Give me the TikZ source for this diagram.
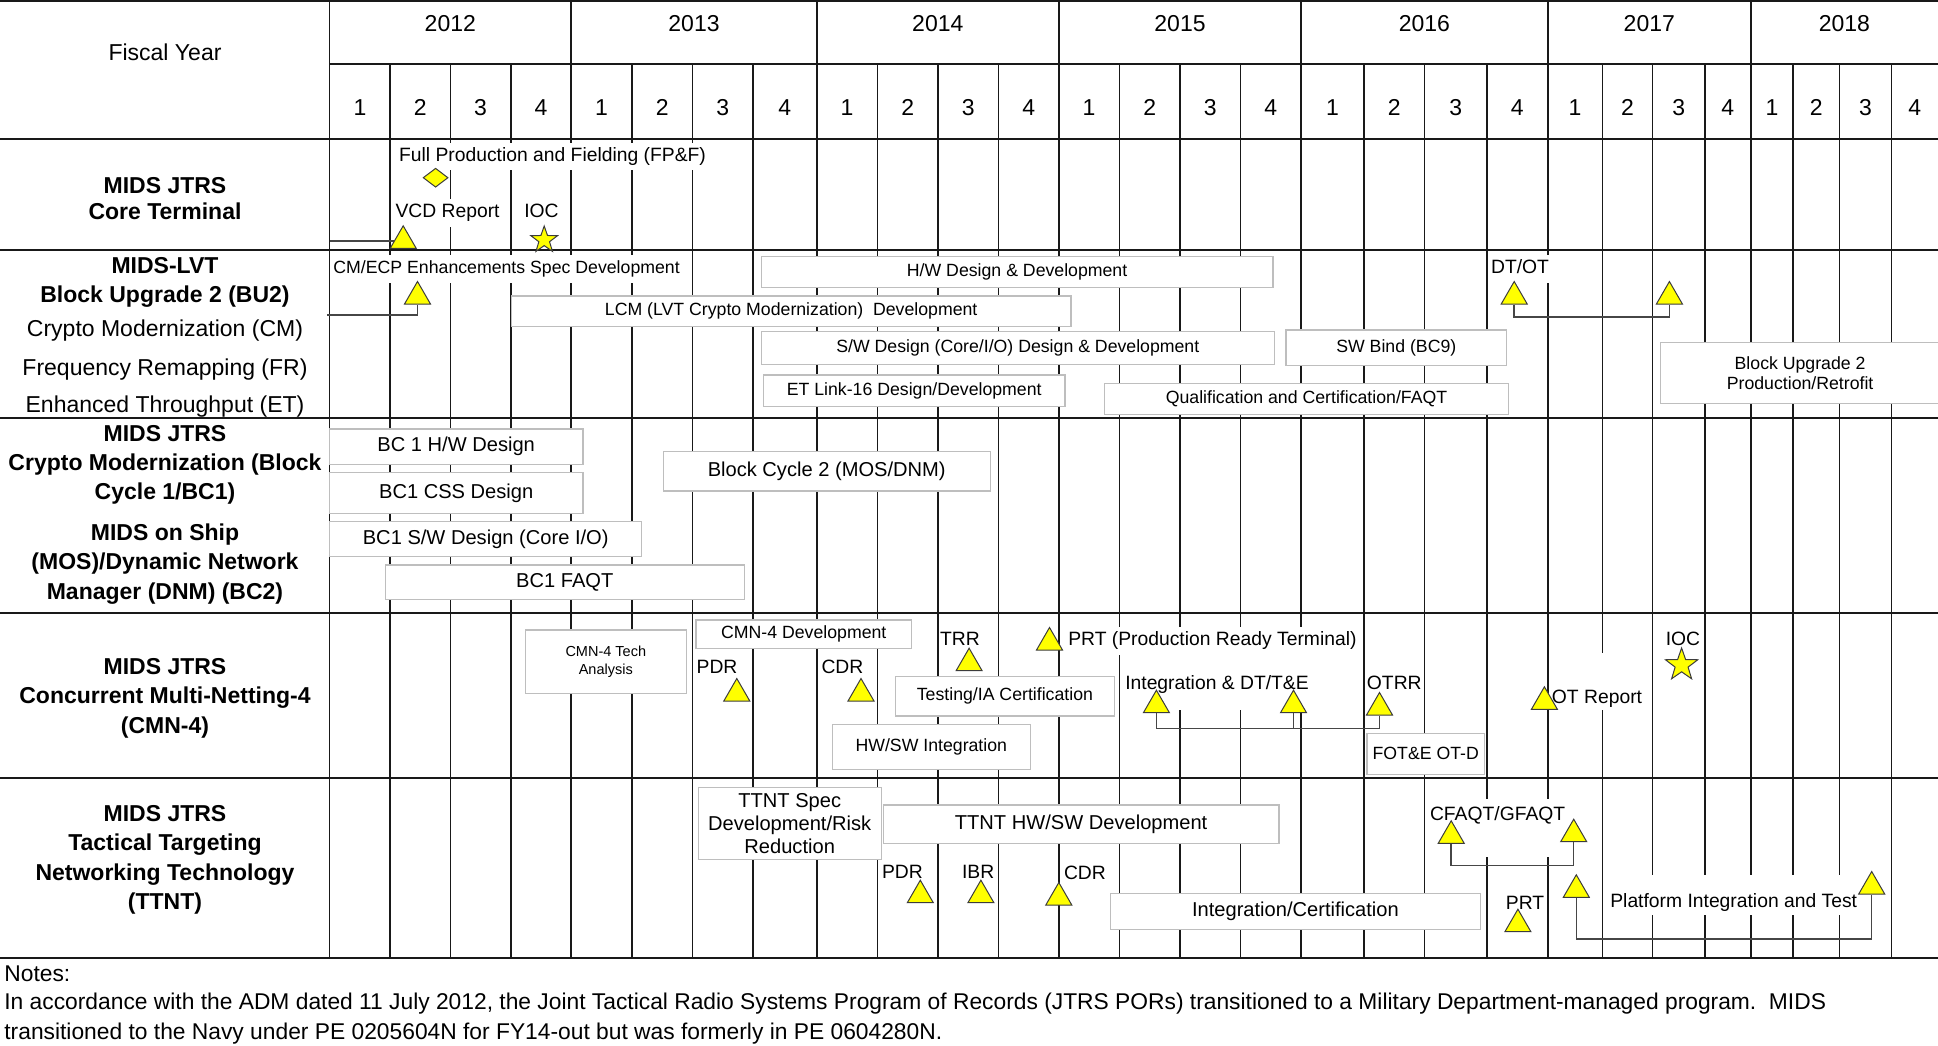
\documentclass[tikz,border=0pt]{standalone}
\usepackage{fontspec}
\setmainfont{Liberation Sans}
\usetikzlibrary{shapes.geometric}

\definecolor{msyellow}{RGB}{255,255,0}
\definecolor{msedge}{RGB}{60,60,60}
\definecolor{barline}{RGB}{190,190,190}
\definecolor{gridline}{RGB}{25,25,25}
\definecolor{linkline}{RGB}{70,70,70}

\newcommand{\hdrfont}{\fontsize{23}{29.2}\selectfont}
\newcommand{\barfont}{\fontsize{17.7}{20}\selectfont}
\newcommand{\bigbarfont}{\fontsize{20.1}{23.3}\selectfont}
\newcommand{\tinybarfont}{\fontsize{14.5}{18.4}\selectfont}
\newcommand{\msfont}{\fontsize{19.3}{23}\selectfont}
\newcommand{\notefont}{\fontsize{22.8}{29}\selectfont}

\begin{document}
\begin{tikzpicture}[
    x=1pt, y=-1pt,
    header/.style={font=\hdrfont, inner sep=0pt},
    rowheader/.style={font=\hdrfont\bfseries, align=center, inner sep=0pt},
    subheader/.style={font=\hdrfont, inner sep=0pt},
    bar/.style={rectangle, draw=barline, fill=white, line width=1.2pt, inner sep=0pt,
                font=\barfont, align=center},
    widebar/.style={bar, font=\bigbarfont},
    mslabel/.style={rectangle, fill=white, inner xsep=1.5pt, inner ysep=4pt,
                    text height=14.5pt, text depth=5pt, font=\msfont},
    milestone/.style={regular polygon, regular polygon sides=3, minimum size=30pt, inner sep=0pt,
                      fill=msyellow, draw=msedge, line width=1pt},
    iocstar/.style={star, star points=5, star point ratio=2.5, inner sep=0pt,
                    fill=msyellow, draw=msedge, line width=1pt},
    fpfmark/.style={diamond, minimum width=25pt, minimum height=19pt, inner sep=0pt,
                    fill=msyellow, draw=msedge, line width=1pt},
    link/.style={draw=linkline, line width=1.5pt},
    vgrid/.style={draw=gridline, line width=1.6pt},
    hgrid/.style={draw=gridline, line width=2.2pt},
    notetext/.style={font=\notefont, inner sep=0pt, anchor=base west}
]
\useasboundingbox (0,0) rectangle (1938,1045);

% Grid: rows
\draw[hgrid] (0,1) -- (1938,1);
\draw[hgrid] (329.5,64.3) -- (1938,64.3);
\draw[hgrid] (0,139.3) -- (1938,139.3);
\draw[hgrid] (0,250) -- (1938,250);
\draw[hgrid] (0,417.7) -- (1938,417.7);
\draw[hgrid] (0,613.3) -- (1938,613.3);
\draw[hgrid] (0,778) -- (1938,778);
\draw[hgrid] (0,958.3) -- (1938,958.3);

% Grid: fiscal year boundaries
\draw[vgrid] (329.5,0) -- (329.5,958.3) (571.1,0) -- (571.1,958.3) (816.8,0) -- (816.8,958.3)
             (1058.8,0) -- (1058.8,958.3) (1301,0) -- (1301,958.3) (1547.7,0) -- (1547.7,958.3)
             (1750.8,0) -- (1750.8,958.3);

% Grid: quarter boundaries
\draw[vgrid] (390.2,64.3) -- (390.2,958.3) (450.3,64.3) -- (450.3,958.3) (510.9,64.3) -- (510.9,958.3);
\draw[vgrid] (631.7,64.3) -- (631.7,958.3) (692.6,64.3) -- (692.6,958.3) (752.8,64.3) -- (752.8,958.3);
\draw[vgrid] (877.4,64.3) -- (877.4,958.3) (938,64.3) -- (938,958.3) (998.6,64.3) -- (998.6,958.3);
\draw[vgrid] (1119.4,64.3) -- (1119.4,958.3) (1180,64.3) -- (1180,958.3) (1240.6,64.3) -- (1240.6,958.3);
\draw[vgrid] (1363.9,64.3) -- (1363.9,958.3) (1424.4,64.3) -- (1424.4,958.3) (1486.9,64.3) -- (1486.9,958.3);
\draw[vgrid] (1602.3,64.3) -- (1602.3,958.3) (1652.6,64.3) -- (1652.6,958.3) (1704.7,64.3) -- (1704.7,958.3);
\draw[vgrid] (1793.2,64.3) -- (1793.2,958.3) (1839.4,64.3) -- (1839.4,958.3) (1891.4,64.3) -- (1891.4,958.3);

% Headers
\node[header] (fiscal) at (165,52.3) {Fiscal Year};
\node[header] (fy12) at (450.3,23.3) {2012};
\node[header] (fy13) at (694,23.3) {2013};
\node[header] (fy14) at (937.8,23.3) {2014};
\node[header] (fy15) at (1180,23.3) {2015};
\node[header] (fy16) at (1424.4,23.3) {2016};
\node[header] (fy17) at (1649.3,23.3) {2017};
\node[header] (fy18) at (1844.4,23.3) {2018};

% Quarters
\node[header] (q121) at (359.9,107.8) {1}; \node[header] (q122) at (420.3,107.8) {2}; \node[header] (q123) at (480.6,107.8) {3}; \node[header] (q124) at (541,107.8) {4};
\node[header] (q131) at (601.4,107.8) {1}; \node[header] (q132) at (662.2,107.8) {2}; \node[header] (q133) at (722.7,107.8) {3}; \node[header] (q134) at (784.8,107.8) {4};
\node[header] (q141) at (847.1,107.8) {1}; \node[header] (q142) at (907.7,107.8) {2}; \node[header] (q143) at (968.3,107.8) {3}; \node[header] (q144) at (1028.7,107.8) {4};
\node[header] (q151) at (1089.1,107.8) {1}; \node[header] (q152) at (1149.7,107.8) {2}; \node[header] (q153) at (1210.3,107.8) {3}; \node[header] (q154) at (1270.8,107.8) {4};
\node[header] (q161) at (1332.5,107.8) {1}; \node[header] (q162) at (1394.2,107.8) {2}; \node[header] (q163) at (1455.7,107.8) {3}; \node[header] (q164) at (1517.3,107.8) {4};
\node[header] (q171) at (1575,107.8) {1}; \node[header] (q172) at (1627.5,107.8) {2}; \node[header] (q173) at (1678.7,107.8) {3}; \node[header] (q174) at (1727.8,107.8) {4};
\node[header] (q181) at (1772,107.8) {1}; \node[header] (q182) at (1816.3,107.8) {2}; \node[header] (q183) at (1865.4,107.8) {3}; \node[header] (q184) at (1914.7,107.8) {4};

% Row 1: Core Terminal
\node[rowheader, font=\fontsize{23}{26.4}\selectfont\bfseries] (ctlbl) at (165,198.3) {MIDS JTRS\\Core Terminal};
\node[mslabel] (fpf) at (552.5,156.5) {Full Production and Fielding (FP\&F)};
\node[mslabel] (vcd) at (447.6,212.9) {VCD Report};
\node[mslabel] (iocct) at (541.5,212.9) {IOC};
\node[fpfmark] (fpfdia) at (435.6,177.7) {};
\node[milestone] (vcdtri) at (403.2,240.8) {};
\node[iocstar, minimum size=28pt] (ctstar) at (544.2,240) {};
\coordinate (ctorigin) at (329.5,240.8);
\draw[link] (ctorigin) -- (vcdtri.180);

% Row 2: MIDS-LVT Block Upgrade 2
\node[rowheader, font=\fontsize{23}{28.6}\selectfont\bfseries] (lvtlbl) at (165,282.4) {MIDS-LVT\\Block Upgrade 2 (BU2)};
\node[subheader] (cmlbl) at (165,330.6) {Crypto Modernization (CM)};
\node[subheader] (frlbl) at (165,370) {Frequency Remapping (FR)};
\node[subheader] (etlbl) at (165,406.6) {Enhanced Throughput (ET)};
\node[mslabel, font=\barfont] (cmecp) at (506.6,268.9) {CM/ECP Enhancements Spec Development};
\node[bar, minimum width=511.8pt, minimum height=30.6pt] (hwdev) at (1017.1,272) {H/W Design \& Development};
\node[bar, minimum width=559.6pt, minimum height=30.7pt] (lcm) at (791.2,311.4) {LCM (LVT Crypto Modernization)\ \ Development};
\node[bar, minimum width=513.1pt, minimum height=32.6pt] (swdev) at (1017.8,348) {S/W Design (Core/I/O) Design \& Development};
\node[bar, minimum width=301.7pt, minimum height=31.7pt] (etlink) at (914.2,390.9) {ET Link-16 Design/Development};
\node[bar, minimum width=404.5pt, minimum height=31pt] (qualcert) at (1306.5,398.8) {Qualification and Certification/FAQT};
\node[bar, minimum width=220.7pt, minimum height=35.7pt] (swbind) at (1396.3,347.9) {SW Bind (BC9)};
\node[bar, minimum width=279.8pt, minimum height=60.6pt] (bu2prod) at (1800.1,373) {Block Upgrade 2\\Production/Retrofit};
\node[mslabel] (dtot) at (1520,268.9) {DT/OT};
\node[milestone] (cmtri) at (417.5,296.5) {};
\node[milestone] (dtot1) at (1514.2,296.5) {};
\node[milestone] (dtot2) at (1669.4,296.5) {};
\coordinate (cmorigin) at (327.4,315);
\draw[link] (cmorigin) -| (cmtri.270);
\draw[link] (dtot1.270) -- ++(0,12.7) -| (dtot2.270);

% Row 3: Crypto Modernization BC1 / MOS-DNM BC2
\node[rowheader] (bc1lbl) at (165,464.9) {MIDS JTRS\\Crypto Modernization (Block\\Cycle 1/BC1)};
\node[rowheader] (moslbl) at (165,563.9) {MIDS on Ship\\(MOS)/Dynamic Network\\Manager (DNM) (BC2)};
\node[widebar, minimum width=253.4pt, minimum height=35.3pt] (bc1hw) at (456.2,446.7) {BC 1 H/W Design};
\node[widebar, minimum width=253.4pt, minimum height=40.6pt] (bc1css) at (456.2,493) {BC1 CSS Design};
\node[widebar, minimum width=312.3pt, minimum height=35pt] (bc1sw) at (485.7,539.2) {BC1 S/W Design (Core I/O)};
\node[widebar, minimum width=359.3pt, minimum height=34.3pt] (bc1faqt) at (564.8,582.2) {BC1 FAQT};
\node[widebar, minimum width=327.1pt, minimum height=39.3pt] (bc2) at (826.7,471.4) {Block Cycle 2 (MOS/DNM)};

% Row 4: CMN-4
\node[rowheader] (cmnlbl) at (165,698.2) {MIDS JTRS\\Concurrent Multi-Netting-4\\(CMN-4)};
\node[bar, font=\tinybarfont, minimum width=161pt, minimum height=63.3pt] (cmntech) at (605.8,661.7) {CMN-4 Tech\\Analysis};
\node[bar, minimum width=215.5pt, minimum height=28.3pt] (cmndev) at (803.8,634.2) {CMN-4 Development};
\node[bar, minimum width=218.8pt, minimum height=39.3pt] (testia) at (1004.9,696.4) {Testing/IA Certification};
\node[bar, minimum width=197.9pt, minimum height=45pt] (hwswint) at (931.3,746.8) {HW/SW Integration};
\node[bar, minimum width=117.5pt, minimum height=41pt] (fote) at (1425.7,753.8) {FOT\&E OT-D};
\node[mslabel] (pdr4) at (717,668.9) {PDR};
\node[mslabel] (cdr4) at (842.4,668.9) {CDR};
\node[mslabel] (trr) at (960,641.2) {TRR};
\node[mslabel] (prtlbl) at (1212.4,641.2) {PRT (Production Ready Terminal)};
\node[mslabel, anchor=north, inner ysep=2pt, text height=35.7pt, text depth=18.3pt] (intdt) at (1217,652) {Integration \& DT/T\&E};
\node[mslabel] (otrr) at (1394.3,684.9) {OTRR};
\node[mslabel, anchor=north, inner ysep=2pt, text height=48.5pt, text depth=4.5pt] (otrep) at (1597,653) {OT Report};
\node[mslabel] (ioc4) at (1683,641.2) {IOC};
\node[milestone] (pdr4tri) at (736.8,693.5) {};
\node[milestone] (cdr4tri) at (861,693.5) {};
\node[milestone] (trrtri) at (969.1,663.2) {};
\node[milestone] (prttri) at (1049.5,642.5) {};
\node[milestone] (inta) at (1156.4,705.2) {};
\node[milestone] (intb) at (1293.5,705.2) {};
\node[milestone] (otrrtri) at (1379.5,707.5) {};
\node[milestone] (otreptri) at (1544.4,701.8) {};
\node[iocstar, minimum size=34pt] (ioc4star) at (1681.6,665) {};
\coordinate (intjoin) at (1293.5,728.3);
\draw[link] (inta.270) |- (intjoin) -| (otrrtri.270);
\draw[link] (intb.270) -- (intjoin);

% Row 5: TTNT
\node[rowheader] (ttntlbl) at (165,859.9) {MIDS JTRS\\Tactical Targeting\\Networking Technology\\(TTNT)};
\node[widebar, minimum width=183.1pt, minimum height=71.6pt] (ttntspec) at (789.7,823.5) {TTNT Spec\\Development/Risk\\Reduction};
\node[widebar, minimum width=395.6pt, minimum height=38.3pt] (ttnthwsw) at (1081.1,824.2) {TTNT HW/SW Development};
\node[widebar, minimum width=369.7pt, minimum height=36pt] (intcert) at (1295.4,911.3) {Integration/Certification};
\node[mslabel] (pdr5) at (902.4,873.9) {PDR};
\node[mslabel] (ibr) at (978.2,873.9) {IBR};
\node[mslabel] (cdr5) at (1084.9,874.9) {CDR};
\node[mslabel, anchor=north, inner ysep=2pt, text height=19.2pt, text depth=34.8pt] (cfgf) at (1497.6,799) {CFAQT/GFAQT};
\node[mslabel] (prt5) at (1525,904.9) {PRT};
\node[mslabel, anchor=north, inner ysep=2pt, text height=30pt, text depth=6pt] (pitlbl) at (1733.7,875) {Platform Integration and Test};
\node[milestone] (pdr5tri) at (920.3,895.2) {};
\node[milestone] (ibrtri) at (980.9,895.2) {};
\node[milestone] (cdr5tri) at (1058.8,897.5) {};
\node[milestone] (cf1) at (1451.2,835.8) {};
\node[milestone] (cf2) at (1573.7,834.2) {};
\node[milestone] (prt5tri) at (1517.9,924.2) {};
\node[milestone] (pit1) at (1576.3,889.8) {};
\node[milestone] (pit2) at (1871.7,886.5) {};
\draw[link] (cf1.270) -- ++(0,21.7) -| (cf2.270);
\draw[link] (pit1.270) -- ++(0,41) -| (pit2.270);

% Notes
\node[notetext] (notehead) at (4.2,981.5) {Notes:};
\node[notetext] (noteone) at (4.2,1009.9) {In accordance with the ADM dated 11 July 2012, the Joint Tactical Radio Systems Program of Records (JTRS PORs) transitioned to a Military Department-managed program.\ \ MIDS};
\node[notetext] (notetwo) at (4.2,1039.9) {transitioned to the Navy under PE 0205604N for FY14-out but was formerly in PE 0604280N.};

\end{tikzpicture}
\end{document}
